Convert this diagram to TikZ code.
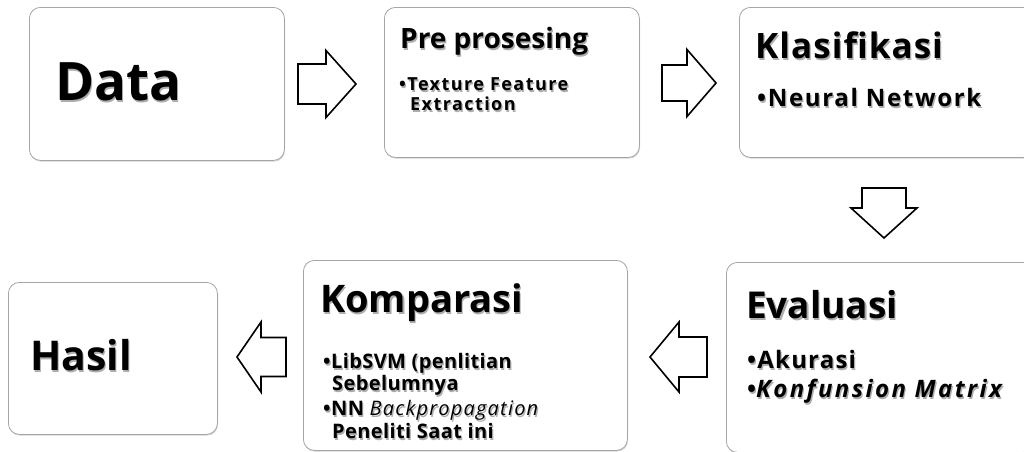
\documentclass[tikz,border=0pt]{standalone}
\usepackage{fontspec}
\setmainfont{Open Sans}
\usetikzlibrary{calc,shadows}

\tikzset{
  box/.style={draw=gray!70, line width=0.8pt, rounded corners=11pt, fill=white,
    inner sep=0pt, anchor=north west,
    drop shadow={shadow xshift=0.6pt, shadow yshift=-1.2pt, opacity=0.35}},
  blk/.style={draw=black, line width=1.6pt, fill=white, line join=miter},
  lbl/.style={anchor=base west, inner sep=0pt, font=\bfseries},
}

% label with a soft shadow underneath: name, position, font, text
\newcommand\shtext[4]{%
  \node[lbl] (#1) at (#2) {#3\rlap{\hspace{1.2pt}\raisebox{-2.4pt}{\textcolor{black!32}{#4}}}#4};}
% font size with extra tracking
\newcommand\fs[2]{\fontsize{#1}{#1}\selectfont\addfontfeature{LetterSpace=#2}}

% block arrow: tail, angle, length, shaft length, shaft half width, head half width
\newcommand\blockarrow[6]{%
  \draw[blk, shift={(#1)}, rotate=#2]
    (0,-#5) -- (#4,-#5) -- (#4,-#6) -- (#3,0) -- (#4,#6) -- (#4,#5) -- (0,#5) -- cycle;}

\begin{document}
\begin{tikzpicture}[x=1pt, y=-1pt]
\useasboundingbox (0,0) rectangle (1024,451);
\clip (0,0) rectangle (1024,451);

% process boxes
\node[box, minimum width=255pt, minimum height=153pt] (data) at (29,7) {};
\node[box, minimum width=255pt, minimum height=150pt] (pre)  at (384,7) {};
\node[box, minimum width=295pt, minimum height=150pt] (klas) at (739,7) {};
\node[box, minimum width=209pt, minimum height=152pt] (hasil) at (8,282) {};
\node[box, minimum width=324pt, minimum height=190pt] (komp) at (303,260) {};
\node[box, minimum width=308pt, minimum height=190pt] (eval) at (726,262) {};

% texts
\shtext{tdata}{55,100}{\fs{53}{0}}{Data}
\shtext{tpre}{400,48}{\fs{28}{0}}{Pre prosesing}
\shtext{tpre1}{399,90}{\fs{18}{8}}{•Texture Feature}
\shtext{tpre2}{410,110}{\fs{18}{8}}{Extraction}
\shtext{tklas}{755,58}{\fs{35}{3}}{Klasifikasi}
\shtext{tklas1}{757,106}{\fs{24}{7}}{•Neural Network}
\shtext{thasil}{30,370}{\fs{41}{0}}{Hasil}
\shtext{tkomp}{320,312}{\fs{38}{0}}{Komparasi}
\shtext{tkomp1}{323,368}{\fs{20}{2}}{•LibSVM (penlitian}
\shtext{tkomp2}{332,390}{\fs{20}{2}}{Sebelumnya}
\shtext{tkomp3}{323,415}{\fs{20}{2}}{•NN {\mdseries\itshape\addfontfeature{LetterSpace=6}Backpropagation}}
\shtext{tkomp4}{332,438}{\fs{20}{2}}{Peneliti Saat ini}
\shtext{teval}{746,318}{\fs{37}{0}}{Evaluasi}
\shtext{teval1}{747,368}{\fs{24}{5}}{•Akurasi}
\shtext{teval2}{747,397}{\fs{24}{5}}{•{\itshape\addfontfeature{LetterSpace=10}Konfunsion Matrix}}

% flow arrows between the boxes
\coordinate (a1) at (298,84);
\coordinate (a2) at (662,83);
\coordinate (a3) at (884,188);
\coordinate (a4) at (707,357);
\coordinate (a5) at (286,357);
\blockarrow{a1}{0}{58}{28}{20}{33.5}
\blockarrow{a2}{0}{54}{25}{18}{33.5}
\blockarrow{a3}{-90}{50}{20}{22}{33}
\blockarrow{a4}{180}{57}{28}{20}{35}
\blockarrow{a5}{180}{49}{25}{19.5}{35}
\end{tikzpicture}
\end{document}
